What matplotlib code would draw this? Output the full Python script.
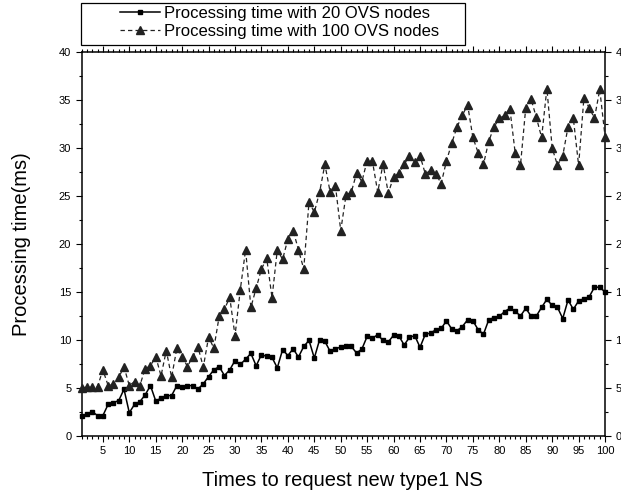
import matplotlib
matplotlib.use("Agg")
import matplotlib.pyplot as plt
from matplotlib.patches import Rectangle
from matplotlib.ticker import MultipleLocator

plt.rcParams['font.family'] = ['Liberation Sans', 'DejaVu Sans']

# request index 1..100
times = list(range(1, 101))

# processing time (ms) with 20 OVS nodes
ovs20 = [2.09, 2.3, 2.54, 2.12, 2.12, 3.3, 3.48, 3.69, 4.87, 2.43,
         3.3, 3.58, 4.28, 5.25, 3.65, 3.93, 4.21, 4.21, 5.25, 5.08,
         5.25, 5.25, 4.9, 5.43, 6.19, 6.89, 7.23, 6.3, 6.89, 7.86,
         7.45, 8.0, 8.6, 7.31, 8.48, 8.29, 8.18, 7.1, 9.0, 8.38,
         9.09, 8.22, 9.33, 9.96, 8.12, 10.03, 9.86, 8.81, 9.09, 9.26,
         9.33, 9.33, 8.64, 9.06, 10.38, 10.2, 10.55, 9.95, 9.8, 10.5,
         10.42, 9.48, 10.28, 10.45, 9.24, 10.6, 10.72, 11.07, 11.2, 12.0,
         11.14, 10.97, 11.4, 12.1, 12.0, 11.07, 10.6, 12.1, 12.34, 12.45,
         12.97, 13.3, 13.0, 12.5, 13.3, 12.5, 12.5, 13.4, 14.24, 13.6,
         13.4, 12.24, 14.17, 13.2, 14.07, 14.3, 14.5, 15.5, 15.5, 15.0]

# processing time (ms) with 100 OVS nodes
ovs100 = [5.04, 5.08, 5.08, 5.15, 6.89, 5.25, 5.43, 6.12, 7.2, 5.25,
          5.67, 5.25, 7.03, 7.3, 8.28, 6.26, 8.9, 6.12, 9.15, 8.28,
          7.23, 8.28, 9.25, 7.18, 10.3, 9.15, 12.45, 13.2, 14.45, 10.45,
          15.25, 19.4, 13.4, 15.4, 17.4, 18.5, 14.4, 19.4, 18.4, 20.5,
          21.4, 19.4, 17.4, 24.4, 23.3, 25.4, 28.3, 25.4, 26.05, 21.4,
          25.1, 25.4, 27.4, 26.5, 28.7, 28.6, 25.4, 28.35, 25.3, 27.0,
          27.4, 28.3, 29.2, 28.55, 29.2, 27.3, 27.7, 27.3, 26.3, 28.65,
          30.5, 32.2, 33.4, 34.5, 31.1, 29.5, 28.3, 30.7, 32.2, 33.1,
          33.4, 34.1, 29.5, 28.2, 34.2, 35.1, 33.2, 31.1, 36.2, 30.0,
          28.2, 29.2, 32.2, 33.1, 28.2, 35.2, 34.2, 33.1, 36.1, 31.2]

fig = plt.figure(figsize=(6.21, 4.98), dpi=100)
ax = fig.add_axes([0.1316, 0.1245, 0.8427, 0.771])

ax.plot(times, ovs20, '-s', color='black', lw=1.1, ms=2.6,
        label='Processing time with 20 OVS nodes', clip_on=False, zorder=3)
ax.plot(times, ovs100, '--^', color='#222222', lw=0.9, dashes=(3.5, 2.5), ms=5.5,
        label='Processing time with 100 OVS nodes', clip_on=False, zorder=3)

ax.set_xlim(1, 100)
ax.set_ylim(0, 40)
ax.xaxis.set_major_locator(MultipleLocator(5))
ax.xaxis.set_minor_locator(MultipleLocator(1))
ax.yaxis.set_major_locator(MultipleLocator(5))
ax.yaxis.set_minor_locator(MultipleLocator(2.5))
ax.tick_params(which='both', direction='out', top=True, right=True,
               labelright=True, labelsize=8, width=0.8, pad=3)
ax.tick_params(which='major', length=4.5)
ax.tick_params(which='minor', length=2.5)
for s in ax.spines.values():
    s.set_linewidth(1.1)

ax.set_xlabel('Times to request new type1 NS', fontsize=14.5)
ax.xaxis.label.set_verticalalignment('center')
ax.xaxis.set_label_coords(0.498, -0.115)
ax.set_ylabel('Processing time(ms)', fontsize=14.5)
ax.yaxis.label.set_verticalalignment('center')
ax.yaxis.set_label_coords(-0.116, 0.5)

# legend box drawn by hand, entries placed inside it
fig.add_artist(Rectangle((81 / 621, 1 - 45 / 498), (465 - 81) / 621, 42 / 498,
                         transform=fig.transFigure, fill=False, lw=0.9, ec='black'))
ax.legend(loc='upper left', bbox_to_anchor=(120 / 621, 1 - 6 / 498),
          bbox_transform=fig.transFigure, frameon=False, fontsize=12,
          handlelength=2.4, handletextpad=0.25, labelspacing=0.2,
          borderpad=0, borderaxespad=0)

fig.savefig('out.png', dpi=100)
